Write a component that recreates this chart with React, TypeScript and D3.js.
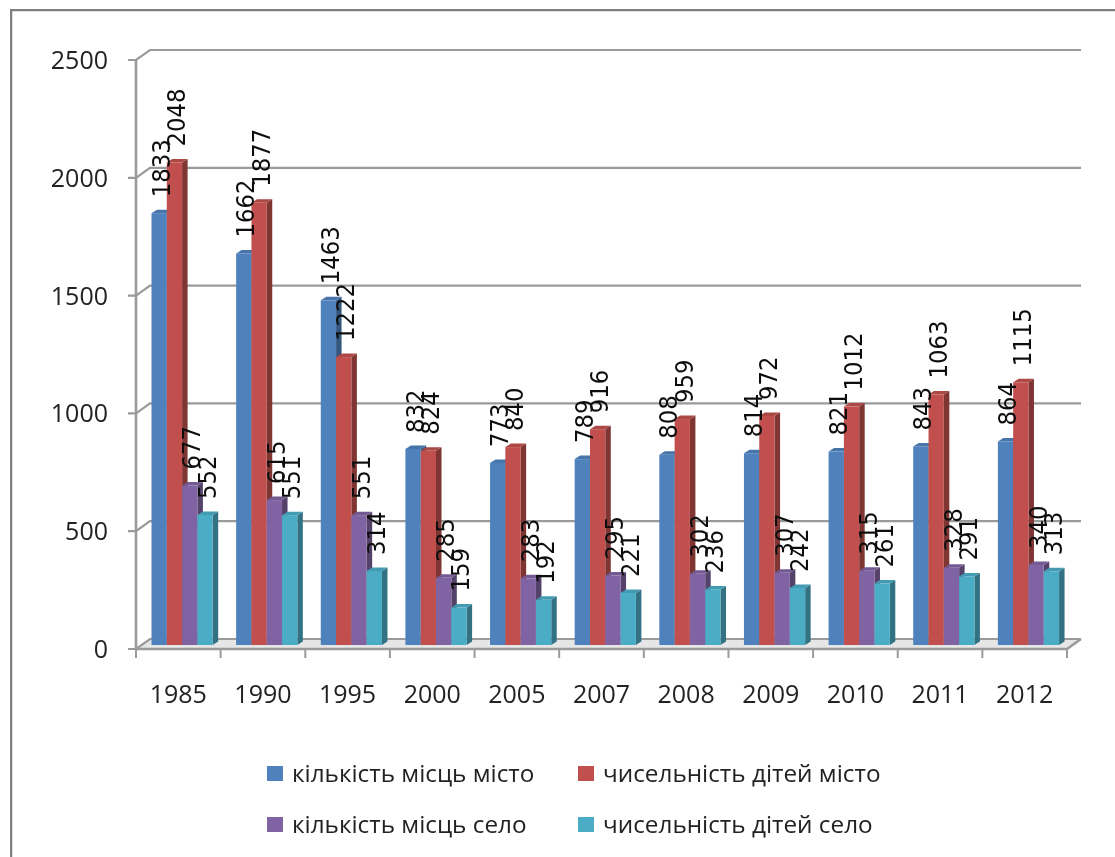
import React from 'react';
import * as d3 from 'd3';

const categories = ['1985','1990','1995','2000','2005','2007','2008','2009','2010','2011','2012'];
const placesCity = [1833,1662,1463,832,773,789,808,814,821,843,864];
const childrenCity = [2048,1877,1222,824,840,916,959,972,1012,1063,1115];
const placesVillage = [677,615,551,285,283,295,302,307,315,328,340];
const childrenVillage = [552,551,314,159,192,221,236,242,261,291,313];
const seriesNames = ['кількість місць місто','чисельність дітей місто','кількість місць село','чисельність дітей село'];
const seriesValues = [placesCity, childrenCity, placesVillage, childrenVillage];
const colors = ['#4F81BD','#C0504D','#8064A2','#4BACC6'];
const yTicks = [0,500,1000,1500,2000,2500];

const W = 1115, H = 857;
const GRID = '#9a9a9a';
const TXT = '#222';

export default function App() {
  const x = d3.scaleBand<string>().domain(categories).range([136, 1067]);
  const inner = d3.scaleBand<number>().domain([0,1,2,3]).range([15.5, 76.7]);
  const yAxis = d3.scaleLinear().domain([0,2500]).range([649,60]);
  const yBar = d3.scaleLinear().domain([0,2500]).range([645,56]);
  const dx = 14, dy = -10;
  const sd = 5.5, td = 3.5;
  return (
    <svg width={W} height={H} style={{position:'absolute',left:0,top:0,background:'#fff'}}>
      <defs>
        <filter id="soft" x="0" y="0" width="100%" height="100%"><feGaussianBlur stdDeviation="0.65"/></filter>
      </defs>
      <g filter="url(#soft)">
        <path d={`M1116,9.5 H10.5 V858`} fill="none" stroke="#7f7f7f" strokeWidth={3.5}/>
        <polygon points={`136,${yAxis(0)} ${136+dx},${yAxis(0)+dy} ${1067+dx},${yAxis(0)+dy} 1067,${yAxis(0)}`} fill="#dcdcdc" opacity={0.7}/>
        {yTicks.map(t => (
          <path key={t} d={`M128,${yAxis(t)} H${136} L${136+dx},${yAxis(t)+dy} H${1067+dx}`} fill="none" stroke={GRID} strokeWidth={2.2}/>
        ))}
        <path d={`M136,${yAxis(2500)} V${yAxis(0)} H1067 L${1067+dx},${yAxis(0)+dy}`} fill="none" stroke={GRID} strokeWidth={2.6}/>
        {[...categories.map(c => x(c)!), 1067].map((t,i) => (
          <line key={i} x1={t} x2={t} y1={yAxis(0)} y2={yAxis(0)+9} stroke={GRID} strokeWidth={2}/>
        ))}
        {yTicks.map(t => (
          <text key={t} x={108} y={yAxis(t)+9} textAnchor="end" fontFamily="Open Sans" fontSize={25} fill={TXT}>{t}</text>
        ))}
        {categories.map(c => (
          <text key={c} x={x(c)!+x.bandwidth()/2} y={703} textAnchor="middle" fontFamily="Open Sans" fontSize={25} fill={TXT}>{c}</text>
        ))}
        {categories.map(c => (
          <g key={c}>
            {seriesValues.map((vals,s) => {
              const v = vals[categories.indexOf(c)];
              const x0 = x(c)! + inner(s)!;
              const w = inner.bandwidth();
              const y0 = yBar(v), yb = yBar(0);
              const col = d3.color(colors[s])!;
              return (
                <g key={s}>
                  <polygon points={`${x0+w},${y0} ${x0+w+sd},${y0-td} ${x0+w+sd},${yb-td} ${x0+w},${yb}`} fill={col.darker(1.15).toString()}/>
                  <polygon points={`${x0},${y0} ${x0+sd},${y0-td} ${x0+w+sd},${y0-td} ${x0+w},${y0}`} fill={col.darker(0.3).toString()}/>
                  <rect x={x0} y={y0} width={w} height={yb-y0} fill={colors[s]}/>
                </g>
              );
            })}
          </g>
        ))}
        {categories.map(c => seriesValues.map((vals,s) => {
          const v = vals[categories.indexOf(c)];
          const cx = x(c)! + inner(s)! + inner.bandwidth()/2 + 1.5;
          const yy = yBar(v) - 16;
          return (
            <text key={c+s} transform={`translate(${cx+9},${yy}) rotate(-90) scale(1,1.08)`} fontFamily="DejaVu Sans" fontSize={22.8} fill="#111">{v}</text>
          );
        }))}
        {seriesNames.map((n,i) => {
          const lx = i % 2 === 0 ? 267 : 578;
          const sy = i < 2 ? 766 : 817;
          return (
            <g key={n}>
              <rect x={lx} y={sy} width={16} height={15} fill={colors[i]}/>
              <text x={lx+25} y={sy+16} fontFamily="Open Sans" fontSize={24.3} fill={TXT}>{n}</text>
            </g>
          );
        })}
      </g>
    </svg>
  );
}
